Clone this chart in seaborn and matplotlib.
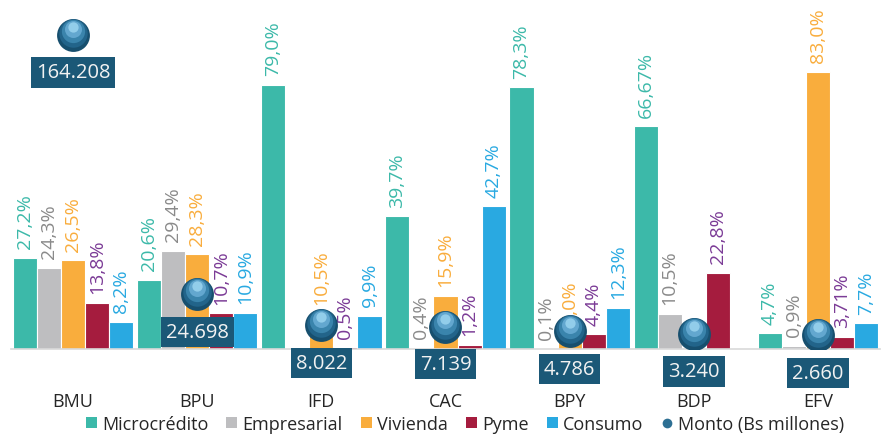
import matplotlib
matplotlib.use("Agg")
import matplotlib.pyplot as plt
from matplotlib.patches import Patch
from matplotlib.lines import Line2D
from matplotlib.transforms import offset_copy
import seaborn as sns
import pandas as pd
import numpy as np

sns.set_style("white")
plt.rcParams["font.family"] = ["Open Sans", "DejaVu Sans"]

bancos = ["BMU", "BPU", "IFD", "CAC", "BPY", "BDP", "EFV"]
series = ["Microcrédito", "Empresarial", "Vivienda", "Pyme", "Consumo"]

microcredito = [27.2, 20.6, 79.0, 39.7, 78.3, 66.67, 4.7]
empresarial = [24.3, 29.4, np.nan, 0.4, 0.1, 10.5, 0.9]
vivienda = [26.5, 28.3, 10.5, 15.9, 5.0, np.nan, 83.0]
pyme = [13.8, 10.7, 0.5, 1.2, 4.4, 22.8, 3.71]
consumo = [8.2, 10.9, 9.9, 42.7, 12.3, np.nan, 7.7]
monto = [164208, 24698, 8022, 7139, 4786, 3240, 2660]  # Bs millones

bar_colors = ["#3CB9A9", "#BEBEC0", "#F9AD3D", "#A51C3E", "#29A9E1"]
label_colors = ["#3CB9A9", "#8A8A8A", "#F9AD3D", "#7B3B96", "#29A9E1"]

df = pd.DataFrame({
    "banco": bancos * 5,
    "cartera": np.repeat(series, len(bancos)),
    "pct": microcredito + empresarial + vivienda + pyme + consumo,
})

fig = plt.figure(figsize=(8.82, 4.39), dpi=100)
ax = fig.add_axes([0.0125, 0.2027, 0.9852, 0.761])

sns.barplot(data=df, x="banco", y="pct", hue="cartera", order=bancos,
            hue_order=series, palette=bar_colors, width=0.97, errorbar=None,
            saturation=1, edgecolor="white", linewidth=0.8, legend=False, ax=ax)
ax.set_xlim(-0.5, len(bancos) - 0.5)
ax.set_ylim(0, 100)
ax.set_xlabel("")
ax.set_ylabel("")
ax.set_yticks([])
ax.tick_params(axis="x", length=0, pad=31, labelsize=13)
sns.despine(ax=ax, left=True)
ax.spines["bottom"].set_color("#D9D9D9")
ax.spines["bottom"].set_linewidth(1.2)


def fmt(v):
    s = f"{v:.1f}" if round(v, 1) == round(v, 2) else f"{v:.2f}"
    return s.replace(".", ",") + "%"


# etiquetas de porcentaje giradas
for i, cont in enumerate(ax.containers):
    for bar in cont:
        h = bar.get_height()
        if np.isnan(h):
            continue
        ax.annotate(fmt(h), (bar.get_x() + bar.get_width() / 2, h),
                    xytext=(0, 7), textcoords="offset points", rotation=90,
                    ha="center", va="bottom", color=label_colors[i],
                    fontsize=14, annotation_clip=False)

# monto en eje secundario
ax2 = ax.twinx()
ax2.set_ylim(-4850, 175000)
ax2.axis("off")
xs = np.arange(len(bancos))

# esfera: capas superpuestas para simular el degradado
layers = [(560, "#174F6E", 0), (420, "#22648A", 1.5), (280, "#3A84AC", 3),
          (150, "#63A7CF", 4.5), (55, "#92CDEA", 5.7)]
for s, c, dy in layers:
    tr = offset_copy(ax2.transData, fig=fig, x=0, y=dy, units="points")
    ax2.scatter(xs, monto, s=s, color=c, linewidths=0, transform=tr, zorder=3)

for x, v in zip(xs, monto):
    ax2.annotate(f"{v:,}".replace(",", "."), (x, v), xytext=(0, -27),
                 textcoords="offset points", ha="center", va="center",
                 color="#F2F2F2", fontsize=14.5, zorder=4, annotation_clip=False,
                 bbox=dict(boxstyle="square,pad=0.25", fc="#1B5877", ec="none"))

handles = [Patch(facecolor=c, edgecolor="none") for c in bar_colors]
handles.append(Line2D([], [], marker="o", ls="", markersize=7,
                      markerfacecolor="#2D6F93", markeredgecolor="none"))
fig.legend(handles, series + ["Monto (Bs millones)"], loc="center",
           bbox_to_anchor=(0.527, 0.032), ncol=6, frameon=False, fontsize=13,
           handlelength=0.6, handleheight=0.6, handletextpad=0.3,
           columnspacing=1.0)

fig.savefig("out.png", dpi=100)
